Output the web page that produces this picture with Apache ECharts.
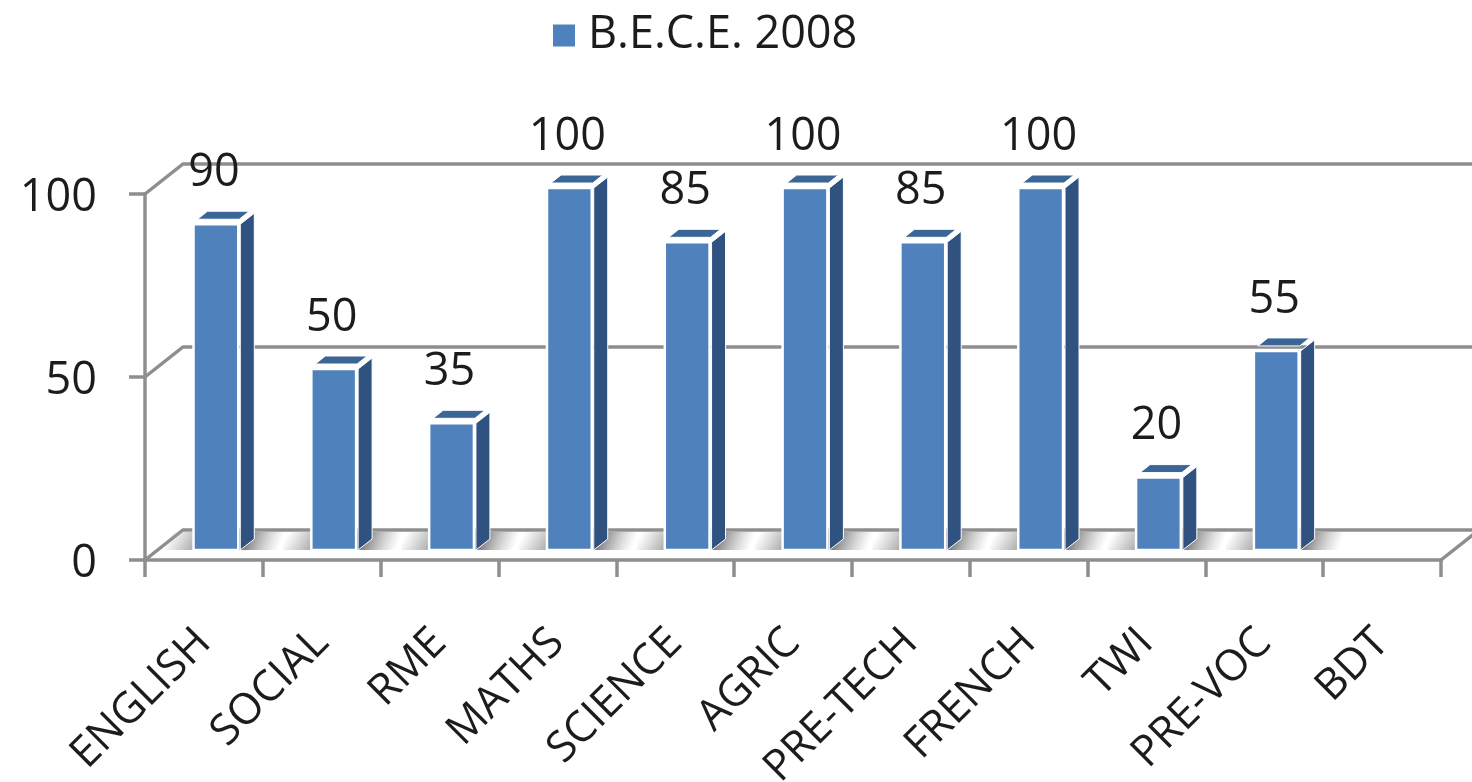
<!DOCTYPE html>
<html>
<head>
<meta charset="utf-8">
<script src="https://cdn.jsdelivr.net/npm/echarts@6/dist/echarts.min.js"></script>
<style>
html,body{margin:0;padding:0;background:#fff;overflow:hidden}
#c{width:1472px;height:782px;filter:blur(0.6px)}
</style>
</head>
<body>
<div id="c"></div>
<script>
const categories = ['ENGLISH','SOCIAL','RME','MATHS','SCIENCE','AGRIC','PRE-TECH','FRENCH','TWI','PRE-VOC','BDT'];
const values = [90,50,35,100,85,100,85,100,20,55,null];
const yTicks = [0,50,100];
const seriesName = 'B.E.C.E. 2008';

const BLUE='#4f81bd', SIDE='#2f5280', TOP='#3a6595', AXIS='#8e8e8e', TEXT='#1c1c1c';
const FONT='"Open Sans", sans-serif';
// pseudo-3D projection offsets (pixels)
const wallDx=38, wallDy=-30, barDx=12, barDy=-10, depthDx=14, depthDy=-11, depthScale=0.989;

const chart=echarts.init(document.getElementById('c'),null,{renderer:'canvas'});

function wallItem(params,api){
  const p=api.coord([0,api.value(0)]);
  const cs=params.coordSys;
  const x0=cs.x, xr=cs.x+cs.width;
  const children=[{
    type:'polyline',
    shape:{points:[[x0,p[1]],[x0+wallDx,p[1]+wallDy],[1480,p[1]+wallDy]]},
    style:{stroke:AXIS,lineWidth:3.5,fill:null}
  }];
  if(api.value(0)===0){
    children.push({type:'line',shape:{x1:xr,y1:p[1],x2:xr+wallDx,y2:p[1]+wallDy},style:{stroke:AXIS,lineWidth:3.5}});
  }
  return {type:'group',children};
}

function shadowItem(params,api){
  if(isNaN(api.value(1))) return null;
  const c=api.coord([api.value(0),0]);
  const w=api.size([1,0])[0]*0.38;
  const l=c[0]+barDx-w/2, r=l+w;
  const y=c[1]+wallDy+2, h=-wallDy+barDy-2;
  return {type:'group',children:[
    {type:'rect',shape:{x:l-28,y:y,width:30,height:h},
      style:{fill:new echarts.graphic.LinearGradient(0,0,1,1,[
        {offset:0.15,color:'rgba(170,170,170,0)'},
        {offset:1,color:'rgba(165,165,165,1)'}])}},
    {type:'rect',shape:{x:r,y:y,width:48,height:h},
      style:{fill:new echarts.graphic.LinearGradient(0,0,1,1,[
        {offset:0.2,color:'rgba(125,125,125,1)'},
        {offset:0.85,color:'rgba(170,170,170,0)'}])}}
  ]};
}

function barItem(params,api){
  if(isNaN(api.value(1))) return null;
  const top=api.coord([api.value(0),api.value(1)]);
  const base=api.coord([api.value(0),0]);
  const w=api.size([1,0])[0]*0.38;
  const b=base[1]+barDy;
  const l=top[0]+barDx-w/2, r=l+w, t=b-(base[1]-top[1])*depthScale;
  return {type:'group',children:[
    {type:'polygon',shape:{points:[[r+2,t],[r+2+depthDx,t+depthDy],[r+2+depthDx,b+depthDy],[r+2,b]]},
      style:{fill:SIDE,stroke:'#fff',lineWidth:1}},
    {type:'polygon',shape:{points:[[l+4,t-5],[l+14,t-13],[r+11,t-13],[r+1,t-5]]},
      style:{fill:TOP,stroke:'#fff',lineWidth:1}},
    {type:'rect',shape:{x:l,y:t,width:w,height:b-t},style:{fill:BLUE,stroke:'#fff',lineWidth:2.5}},
    {type:'text',style:{text:String(api.value(1)),x:l+w/2-2,y:t-51,align:'center',verticalAlign:'middle',
      font:'400 45px '+FONT,fill:TEXT}}
  ]};
}

chart.setOption({
  animation:false,
  backgroundColor:'#fff',
  textStyle:{fontFamily:FONT},
  legend:{
    show:true,left:548,top:8,icon:'rect',itemWidth:22,itemHeight:22,
    data:[{name:seriesName,itemStyle:{color:BLUE}}],
    textStyle:{fontFamily:FONT,fontSize:45,color:TEXT,padding:[0,0,0,8]}
  },
  grid:{left:145,right:31,top:194,bottom:222,outerBoundsMode:'none'},
  xAxis:{
    type:'category',data:categories,boundaryGap:true,
    axisLine:{lineStyle:{color:AXIS,width:3.5}},
    axisTick:{show:true,length:17,lineStyle:{color:AXIS,width:3.5}},
    axisLabel:{rotate:45,interval:0,margin:76,fontFamily:FONT,fontSize:43,color:TEXT}
  },
  yAxis:{
    type:'value',min:0,max:100,interval:50,
    splitLine:{show:false},
    axisLine:{show:true,lineStyle:{color:AXIS,width:3.5}},
    axisTick:{show:true,length:16,lineStyle:{color:AXIS,width:3.5}},
    axisLabel:{margin:48,formatter:'{a|{value}}',
      rich:{a:{fontFamily:FONT,fontSize:45,color:TEXT,padding:[8,0,0,0]}}}
  },
  series:[
    {type:'custom',name:'wall',renderItem:wallItem,silent:true,z:1,data:yTicks.map(v=>[v]),encode:{y:0}},
    {type:'custom',name:'shadow',renderItem:shadowItem,silent:true,z:2,data:categories.map((c,i)=>[i,values[i]])},
    {type:'custom',name:seriesName,renderItem:barItem,z:3,itemStyle:{color:BLUE},data:categories.map((c,i)=>[i,values[i]]),encode:{x:0,y:1}}
  ]
});
</script>
</body>
</html>
